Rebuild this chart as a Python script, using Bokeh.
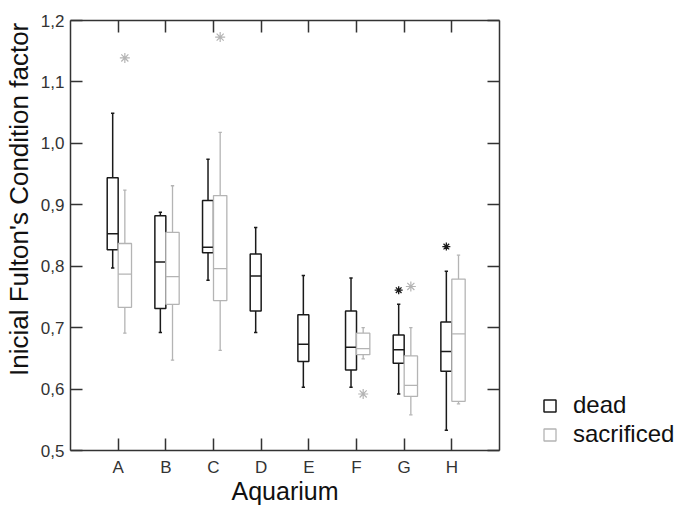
from bokeh.plotting import figure
from bokeh.layouts import row
from bokeh.models import LinearAxis, FixedTicker, Legend, LegendItem, ColumnDataSource, Range1d
from bokeh.embed import file_html
from bokeh.resources import INLINE

aquaria = ["A", "B", "C", "D", "E", "F", "G", "H"]
y_ticks = [0.5, 0.6, 0.7, 0.8, 0.9, 1.0, 1.1, 1.2]
y_tick_labels = ["0,5", "0,6", "0,7", "0,8", "0,9", "1,0", "1,1", "1,2"]
groups = ["dead", "sacrificed"]

# dead group: A..H
dead_whisk_lo = [0.797, 0.692, 0.777, 0.692, 0.603, 0.603, 0.592, 0.533]
dead_q1       = [0.827, 0.731, 0.822, 0.727, 0.645, 0.631, 0.642, 0.629]
dead_median   = [0.853, 0.807, 0.831, 0.784, 0.673, 0.668, 0.664, 0.661]
dead_q3       = [0.944, 0.882, 0.907, 0.820, 0.721, 0.727, 0.688, 0.709]
dead_whisk_hi = [1.049, 0.888, 0.974, 0.863, 0.785, 0.781, 0.738, 0.792]
dead_out_cat = ["G", "H"]
dead_out_val = [0.761, 0.832]

# sacrificed group (no D, no E)
sac_cats      = ["A", "B", "C", "F", "G", "H"]
sac_whisk_lo  = [0.691, 0.647, 0.663, 0.649, 0.558, 0.576]
sac_q1        = [0.733, 0.738, 0.744, 0.656, 0.588, 0.580]
sac_median    = [0.787, 0.783, 0.796, 0.666, 0.606, 0.690]
sac_q3        = [0.837, 0.855, 0.915, 0.691, 0.654, 0.779]
sac_whisk_hi  = [0.924, 0.931, 1.018, 0.700, 0.700, 0.818]
sac_out_cat = ["A", "C", "F", "G"]
sac_out_val = [1.139, 1.173, 0.592, 0.767]

DARK = "#1a1a1a"
GRAY = "#b4b4b4"
FONT = "Liberation Sans"
NARROW = "Liberation Sans Narrow, Liberation Sans"

idx = {c: i for i, c in enumerate(aquaria)}

p = figure(output_backend="svg", toolbar_location=None,
           x_range=Range1d(-1, 8), y_range=Range1d(0.5, 1.2),
           frame_width=429, frame_height=430,
           min_border_left=70, min_border_top=20, min_border_bottom=56, min_border_right=4)
p.grid.visible = False
p.outline_line_color = None
p.background_fill_color = "white"
p.border_fill_color = "white"


def box_group(cats, lo, q1, med, q3, hi, offset, width, color, lw):
    xs = [idx[c] + offset for c in cats]
    src = ColumnDataSource(dict(x=xs, lo=lo, q1=q1, med=med, q3=q3, hi=hi,
                                left=[x - width / 2 for x in xs], right=[x + width / 2 for x in xs],
                                cl=[x - 0.035 for x in xs], cr=[x + 0.035 for x in xs]))
    p.segment("x", "q3", "x", "hi", source=src, line_color=color, line_width=lw)
    p.segment("x", "lo", "x", "q1", source=src, line_color=color, line_width=lw)
    p.segment("cl", "hi", "cr", "hi", source=src, line_color=color, line_width=lw)
    p.segment("cl", "lo", "cr", "lo", source=src, line_color=color, line_width=lw)
    p.quad(left="left", right="right", bottom="q1", top="q3", source=src,
           fill_color="white", line_color=color, line_width=lw)
    p.segment("left", "med", "right", "med", source=src, line_color=color, line_width=lw)


box_group(aquaria, dead_whisk_lo, dead_q1, dead_median, dead_q3, dead_whisk_hi,
          -0.115, 0.23, DARK, 1.5)
box_group(sac_cats, sac_whisk_lo, sac_q1, sac_median, sac_q3, sac_whisk_hi,
          0.14, 0.28, GRAY, 1.3)

p.scatter([idx[c] - 0.115 for c in dead_out_cat], dead_out_val, marker="asterisk",
          size=8, line_color=DARK, line_width=1.3)
p.scatter([idx[c] + 0.14 for c in sac_out_cat], sac_out_val, marker="asterisk",
          size=10, line_color=GRAY, line_width=1.2)


def style_axis(ax):
    ax.axis_line_color = "#333333"
    ax.axis_line_width = 1.5
    ax.major_tick_line_color = "#333333"
    ax.major_tick_line_width = 1.5
    ax.major_tick_in = 12
    ax.major_tick_out = 0
    ax.minor_tick_line_color = None
    ax.major_label_text_font = NARROW
    ax.major_label_text_font_size = "17px"
    ax.major_label_text_color = "#333333"
    ax.axis_label_text_font = FONT
    ax.axis_label_text_font_style = "normal"
    ax.axis_label_text_font_size = "25px"
    ax.axis_label_text_color = "#111111"


p.xaxis.ticker = FixedTicker(ticks=list(range(len(aquaria))))
p.xaxis.major_label_overrides = {i: c for i, c in enumerate(aquaria)}
p.xaxis.axis_label = "Aquarium"
style_axis(p.xaxis[0])
p.xaxis.major_label_standoff = 7
p.xaxis.axis_label_standoff = -3

p.yaxis.ticker = FixedTicker(ticks=y_ticks)
p.yaxis.major_label_overrides = {t: l for t, l in zip(y_ticks, y_tick_labels)}
p.yaxis.axis_label = "\u00a0" * 10 + "Inicial Fulton's Condition factor"
style_axis(p.yaxis[0])
p.yaxis.axis_label_text_font_size = "26px"
p.yaxis.major_label_standoff = 6
p.yaxis.axis_label_standoff = 4

top = LinearAxis(ticker=FixedTicker(ticks=list(range(len(aquaria)))))
style_axis(top)
top.major_label_text_alpha = 0
top.major_label_text_font_size = "1px"
top.major_label_standoff = 0
p.add_layout(top, "above")
right = LinearAxis(ticker=FixedTicker(ticks=y_ticks))
style_axis(right)
right.major_label_text_alpha = 0
right.major_label_text_font_size = "1px"
right.major_label_standoff = 0
p.add_layout(right, "right")

# legend panel (legend-only renderers hold NaN, so they draw nothing in the plot)
lg = figure(width=180, height=506, output_backend="svg", toolbar_location=None,
            x_range=Range1d(0, 1), y_range=Range1d(0, 1), min_border=0)
lg.axis.visible = False
lg.grid.visible = False
lg.outline_line_color = None
nan = float("nan")
r_dead = lg.quad(left=[nan], right=[nan], bottom=[nan], top=[nan], fill_color="white",
                 line_color=DARK, line_width=1.5)
r_sac = lg.quad(left=[nan], right=[nan], bottom=[nan], top=[nan], fill_color="white",
                line_color=GRAY, line_width=1.3)
legend = Legend(items=[LegendItem(label=groups[0], renderers=[r_dead]),
                       LegendItem(label=groups[1], renderers=[r_sac])],
                location=(39, 1), border_line_color=None, background_fill_alpha=0,
                label_text_font=FONT, label_text_font_size="24px", label_text_color="#111111",
                glyph_width=15, glyph_height=15, spacing=1, margin=0, padding=0,
                label_standoff=16)
lg.add_layout(legend, "center")

layout = row(p, lg)
open("out.html", "w").write(file_html(layout, INLINE))
